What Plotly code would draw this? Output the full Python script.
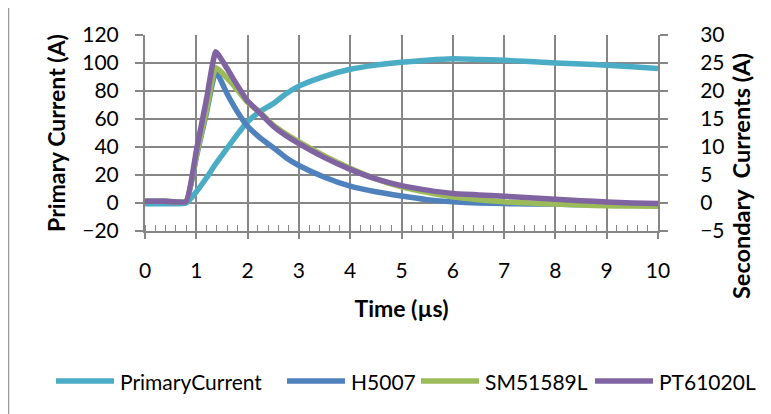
import plotly.graph_objects as go

# Time axis (µs)
time_us = [0, 0.4, 0.8, 1.0, 1.2, 1.38, 1.6, 1.8, 2.0, 2.25, 2.5, 2.75, 3.0, 3.5,
           4.0, 4.5, 5.0, 5.5, 6.0, 6.5, 7.0, 7.5, 8.0, 8.5, 9.0, 9.5, 10.0]

# Primary current (A), left axis
primary_current = [-0.5, -0.5, 0, 8, 18, 28, 39, 49, 58, 65.5, 71, 78, 83.5, 90.5,
                   95.5, 98.5, 100.5, 102, 103, 102.5, 102, 101, 100, 99.3, 98.4, 97.3, 96]

# Secondary currents (A), right axis
h5007 = [0.3, 0.3, 0.2, 8.2, 16.2, 23.5, 19.5, 16.3, 13.7, 11.6, 9.9, 8.1, 6.7, 4.6,
         3.0, 2.0, 1.25, 0.6, 0.2, 0.0, -0.1, -0.2, -0.2, -0.3, -0.3, -0.3, -0.3]
sm51589l = [0.3, 0.3, 0.3, 8.4, 16.7, 24.2, 22.3, 20.2, 18.0, 16.1, 13.9, 12.3, 10.9, 8.4,
            6.2, 4.3, 2.9, 1.9, 1.1, 0.6, 0.2, 0.0, -0.2, -0.35, -0.5, -0.55, -0.6]
pt61020l = [0.3, 0.3, 0.3, 9.3, 18.6, 27.0, 24.0, 21.0, 18.2, 16.0, 13.7, 12.0, 10.6, 8.1,
            6.0, 4.3, 3.1, 2.3, 1.7, 1.45, 1.2, 0.95, 0.65, 0.4, 0.2, 0.0, -0.1]

series_names = ["PrimaryCurrent", "H5007", "SM51589L", "PT61020L"]
series_colors = ["#4BACC6", "#4F81BD", "#9BBB59", "#8064A2"]

x_ticks = list(range(0, 11))
left_ticks = list(range(-20, 121, 20))
right_ticks = list(range(-5, 31, 5))

FONT = "Lato"
GRID = "#868686"
LW = 5.5

# layout geometry (pixels of the figure)
W, H = 763, 406
ML, MR, MT, MB = 137, 113, 27, 183
PW, PH = W - ML - MR, H - MT - MB


def px_x(px):  # page pixel -> paper x (page has 8px body offset)
    return (px - 8 - ML) / PW


def px_y(py):
    return (MT + PH - (py - 8)) / PH


fig = go.Figure()
all_y = [primary_current, h5007, sm51589l, pt61020l]
for i, (nm, col, ys) in enumerate(zip(series_names, series_colors, all_y)):
    fig.add_trace(go.Scatter(x=time_us, y=ys, name=nm, mode="lines",
                             yaxis="y" if i == 0 else "y2", showlegend=False,
                             line=dict(color=col, width=LW, shape="spline",
                                       smoothing=0.6 if i == 0 else 0.4)))

# legend drawn manually (long line samples like the original)
leg_line_start = [56, 287, 421, 595]
leg_line_len = 58
leg_y = px_y(381)
shapes = []
annotations = []
for nm, col, x0 in zip(series_names, series_colors, leg_line_start):
    shapes.append(dict(type="line", xref="paper", yref="paper",
                       x0=px_x(x0), x1=px_x(x0 + leg_line_len), y0=leg_y, y1=leg_y,
                       line=dict(color=col, width=5.5)))
    annotations.append(dict(text=nm, xref="paper", yref="paper", x=px_x(x0 + leg_line_len + 4),
                            y=leg_y, xanchor="left", yanchor="middle", showarrow=False,
                            font=dict(size=21, family=FONT, color="black")))

# right axis title
annotations.append(dict(text="<b>Secondary\u00a0\u00a0Currents\u00a0(A)</b>", xref="paper", yref="paper",
                        x=px_x(741), y=px_y(176), xanchor="center", yanchor="middle",
                        textangle=-90, showarrow=False, font=dict(size=23.5, family=FONT, color="black")))

# chart frame edge at left
shapes.append(dict(type="line", xref="paper", yref="paper", x0=px_x(8.5), x1=px_x(8.5), y0=-1.2, y1=1.2,
                   line=dict(color="#9a9a9a", width=1.5), layer="below"))

fig.update_layout(
    width=W, height=H,
    margin=dict(l=ML, r=MR, t=MT, b=MB, autoexpand=False),
    paper_bgcolor="white", plot_bgcolor="white",
    font=dict(family=FONT, color="black", size=21),
    showlegend=False,
    xaxis=dict(range=[0, 10], tickvals=x_ticks, showgrid=True, gridcolor=GRID, gridwidth=2,
               showline=True, linecolor=GRID, linewidth=2, zeroline=False,
               ticks="outside", ticklen=6, tickcolor=GRID, tickwidth=2,
               ticklabelstandoff=14,
               minor=dict(dtick=0.2, ticks="inside", ticklen=6, tickcolor=GRID, tickwidth=1.2, showgrid=False),
               title=dict(text="<b>Time (µs)</b>", font=dict(size=23), standoff=20),
               tickfont=dict(size=21)),
    yaxis=dict(range=[-20, 120], tickvals=left_ticks, showgrid=True, gridcolor=GRID, gridwidth=2,
               showline=True, linecolor=GRID, linewidth=2, zeroline=False,
               ticks="outside", ticklen=8, tickcolor=GRID, tickwidth=2,
               ticklabelstandoff=12,
               title=dict(text="<b>Primary Current (A)</b>", font=dict(size=23), standoff=10),
               tickfont=dict(size=21)),
    yaxis2=dict(range=[-5, 30], tickvals=right_ticks, overlaying="y", side="right",
                showgrid=False, showline=True, linecolor=GRID, linewidth=2, zeroline=False,
                ticks="outside", ticklen=8, tickcolor=GRID, tickwidth=2,
                ticklabelstandoff=28,
                tickfont=dict(size=21)),
    shapes=shapes,
    annotations=annotations,
)

fig.write_html("out.html")
